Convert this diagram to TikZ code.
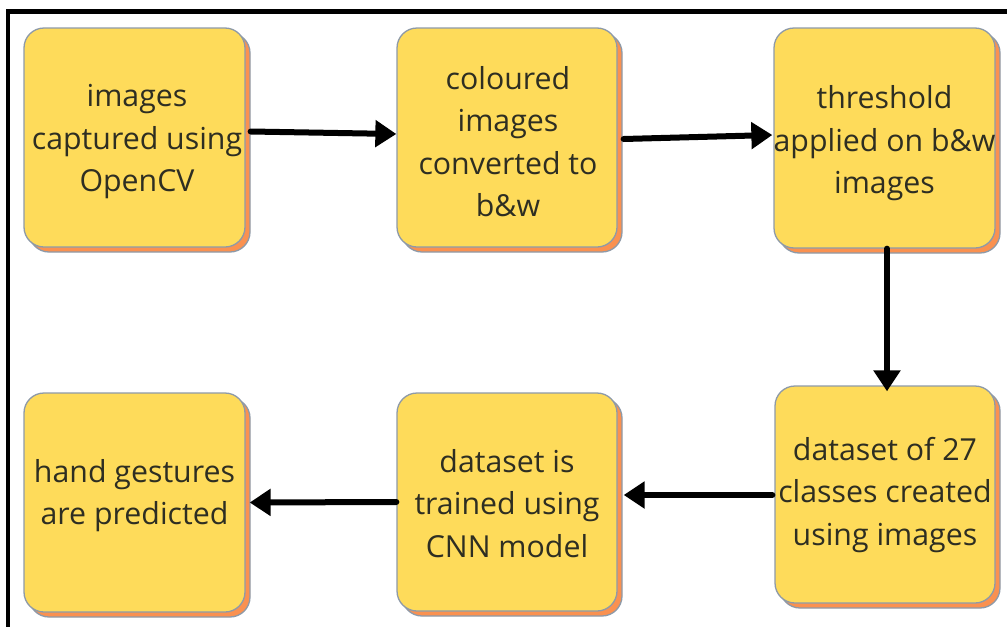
\documentclass[tikz,border=0pt]{standalone}
\usepackage{fontspec}
\setmainfont{Open Sans}
\usetikzlibrary{arrows.meta,shadows,calc}

\definecolor{cardfill}{HTML}{FEDB5A}
\definecolor{cardshadow}{HTML}{FA9150}
\definecolor{cardedge}{HTML}{8E9AA8}
\definecolor{inktext}{HTML}{2E2E22}

% centred multi-line label whose base is the baseline of its first line
\newcommand\cardtext[1]{\begin{tabular}[t]{@{}c@{}}#1\end{tabular}}

\begin{document}
\begin{tikzpicture}[x=1pt,y=-1pt,
  card/.style={draw=cardedge, line width=1.3pt, fill=cardfill,
    rounded corners=20pt, inner sep=0pt,
    minimum width=221pt, minimum height=219pt,
    copy shadow={shadow xshift=5pt, shadow yshift=-5pt,
      fill=cardshadow, draw=cardedge, line width=1.3pt}},
  txt/.style={text=inktext, font=\fontsize{30.3}{42.5}\selectfont,
    inner sep=0pt, anchor=base},
  flow/.style={draw=black, line width=6pt, line cap=round,
    -{Triangle[length=21pt,width=26pt]}}
]
\useasboundingbox (0,0) rectangle (1007,627);

% frame along the top and left edges
\fill[black] (6,9) rectangle (1007,14);
\fill[black] (6,9) rectangle (10,627);

% process cards
\node[card] (b1) at (134.5,137.5) {};
\node[card, minimum width=220pt] (b2) at (507,137.5) {};
\node[card, minimum height=220pt] (b3) at (884.5,138) {};
\node[card] (b4) at (134.5,502.5) {};
\node[card, minimum width=220pt, minimum height=218pt] (b5) at (507,502) {};
\node[card, minimum width=220pt, minimum height=217pt] (b6) at (885,494.5) {};

% card labels
\node[txt] (t1) at (137,106.5) {\cardtext{images\\captured using\\OpenCV}};
\node[txt] (t2) at (508,89) {\cardtext{coloured\\images\\converted to\\b\&w}};
\node[txt] (t3) at (884.5,108.5) {\cardtext{threshold\\applied on b\&w\\images}};
\node[txt] (t4) at (134.5,482) {\cardtext{hand gestures\\are predicted}};
\node[txt] (t5) at (507,472) {\cardtext{dataset is\\trained using\\CNN model}};
\node[txt] (t6) at (885,460) {\cardtext{dataset of 27\\classes created\\using images}};

% flow arrows
\draw[flow] ($(b1.east)+(5,-6)$) -- ($(b2.west)+(0,-3.5)$);
\draw[flow] ($(b2.east)+(6,1.5)$) -- ($(b3.west)+(-1,-3)$);
\draw[flow] ($(b3.south)+(2.5,0)$) -- ($(b6.north)+(2,6)$);
\draw[flow] ($(b6.west)+(-2,0.5)$) -- ($(b5.east)+(6,-7)$);
\draw[flow] (b5.west) -- ($(b4.east)+(4,0)$);
\end{tikzpicture}
\end{document}
